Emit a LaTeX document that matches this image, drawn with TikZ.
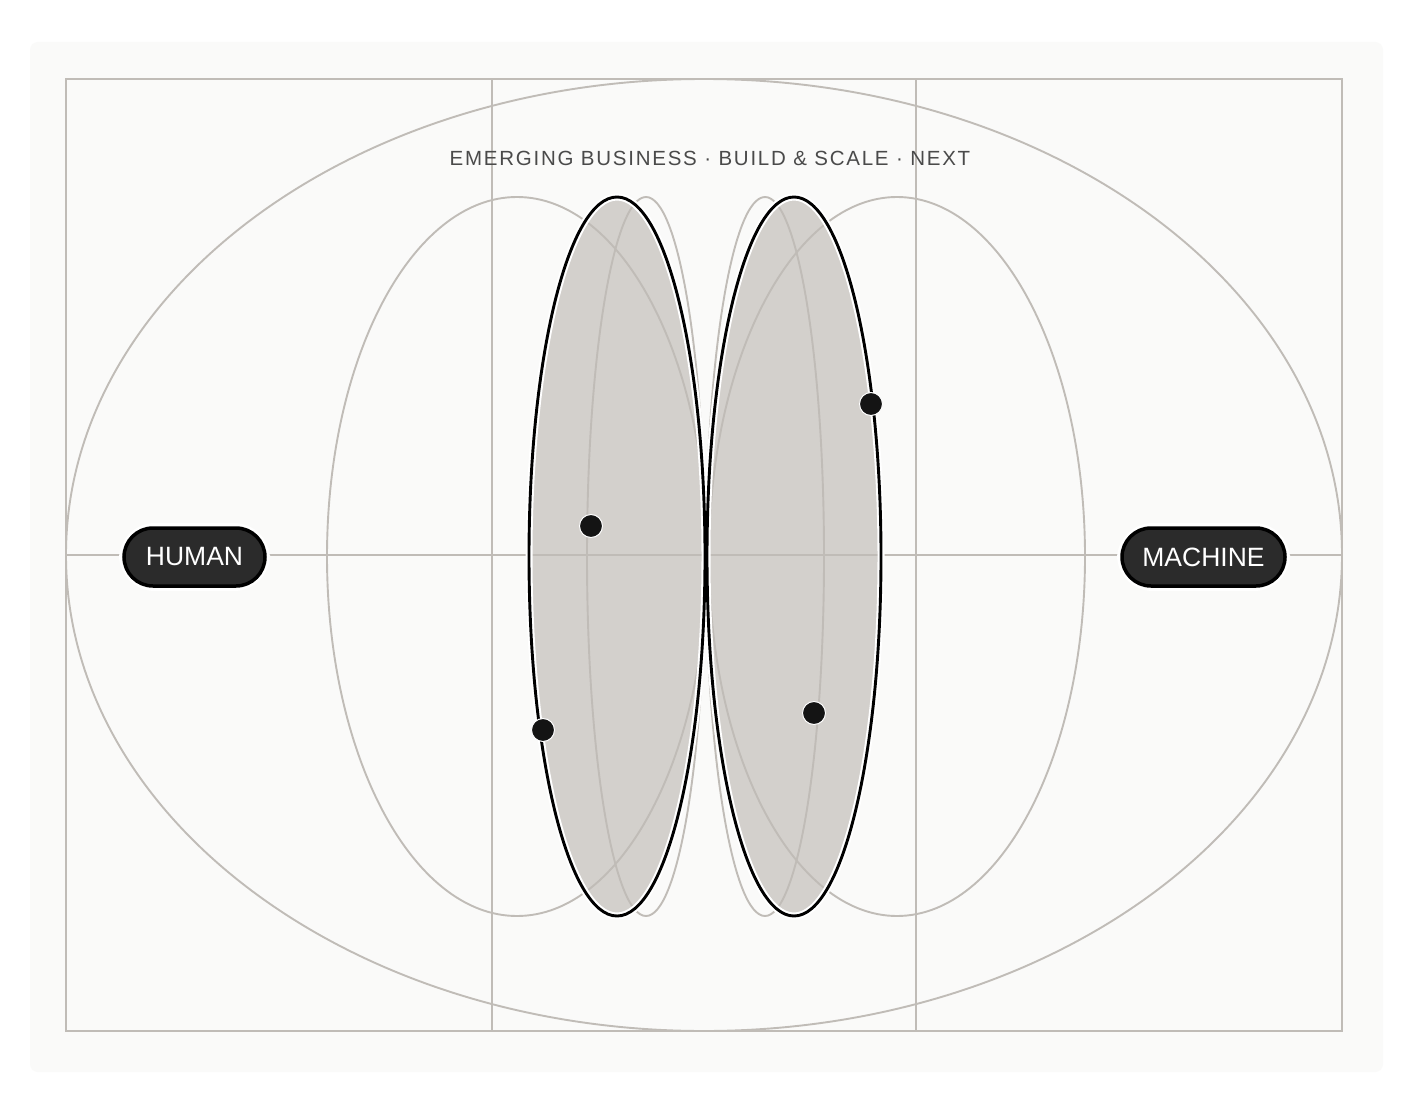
\documentclass[tikz,border=0pt]{standalone}
\usepackage{fontspec}
\setmainfont{Liberation Sans}
\definecolor{cardbg}{HTML}{FAFAF9}
\definecolor{gridgray}{HTML}{C0BCB7}
\definecolor{lensfill}{HTML}{D3D0CC}
\definecolor{pillfill}{HTML}{2B2B2B}
\definecolor{titlegray}{HTML}{4A4A4A}
\tikzset{
  gridline/.style={draw=gridgray, line width=1.9pt},
  lensfillstyle/.style={fill=lensfill},
  lensedge/.style={draw=black, line width=2.9pt},
  lenshalo/.style={draw=white, line width=7pt},
  dotnode/.style={circle, fill=black!92, draw=white, line width=1pt, inner sep=0pt, minimum size=23pt},
  pill/.style={rectangle, rounded corners=29pt, fill=pillfill, draw=black, line width=3.5pt, text=white, font=\fontsize{26.5}{30}\selectfont, minimum height=58pt, inner sep=0pt},
  pillhalo/.style={rectangle, rounded corners=31pt, draw=white, line width=10pt, minimum height=58pt, inner sep=0pt},
}
\begin{document}
\begin{tikzpicture}[x=1pt,y=-1pt]
\useasboundingbox (0,0) rectangle (1421,1107);
\fill[white] (0,0) rectangle (1421,1107);
\fill[cardbg, rounded corners=8pt] (30,42) rectangle (1383,1072);
% lens fills
\fill[lensfillstyle] (617,556.5) ellipse [x radius=88, y radius=359.5];
\fill[lensfillstyle] (794,556.5) ellipse [x radius=87, y radius=359.5];
% grid
\draw[gridline] (66,79) rectangle (1342,1031);
\draw[gridline] (492,79) -- (492,1031);
\draw[gridline] (916,79) -- (916,1031);
\draw[gridline] (66,555) -- (1342,555);
\draw[gridline] (704,555) ellipse [x radius=638, y radius=476];
\draw[gridline] (517,556.5) ellipse [x radius=190, y radius=359.5];
\draw[gridline] (897,556.5) ellipse [x radius=188, y radius=359.5];
\draw[gridline] (646,556.5) ellipse [x radius=59, y radius=359.5];
\draw[gridline] (765,556.5) ellipse [x radius=59, y radius=359.5];
% lens edges
\draw[lenshalo] (617,556.5) ellipse [x radius=88, y radius=359.5];
\draw[lenshalo] (794,556.5) ellipse [x radius=87, y radius=359.5];
\draw[lensedge] (617,556.5) ellipse [x radius=88, y radius=359.5];
\draw[lensedge] (794,556.5) ellipse [x radius=87, y radius=359.5];
% dots
\node[dotnode] (d1) at (591,526) {};
\node[dotnode] (d2) at (543,730) {};
\node[dotnode] (d3) at (871,404) {};
\node[dotnode] (d4) at (814,713) {};
% pills
\node[pillhalo, minimum width=141pt] (hh) at (194.5,557) {};
\node[pillhalo, minimum width=163pt] (mh) at (1203.5,557) {};
\node[pill, minimum width=141pt] (human) at (194.5,557) {HUMAN};
\node[pill, minimum width=163pt] (machine) at (1203.5,557) {MACHINE};
% title
\node[text=titlegray, font=\fontsize{20.5}{24}\selectfont\addfontfeature{LetterSpace=8.5}] (title) at (710,158.5) {EMERGING BUSINESS · BUILD \& SCALE · NEXT};
\end{tikzpicture}
\end{document}
